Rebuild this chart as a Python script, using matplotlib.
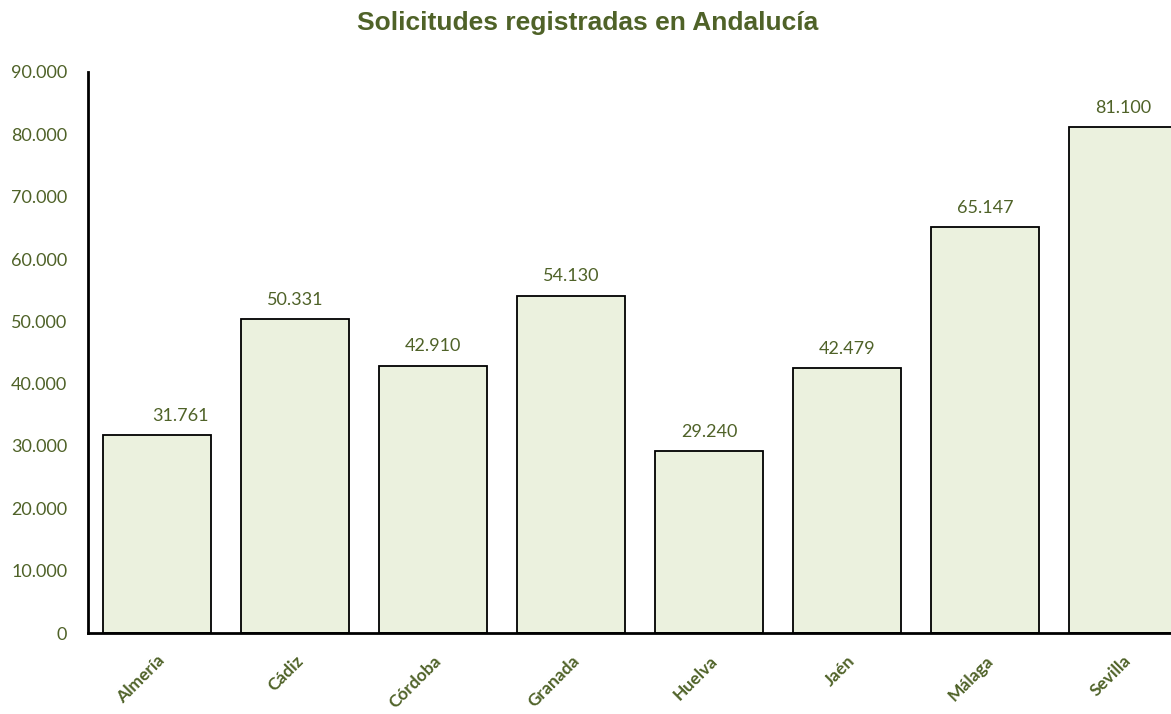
import matplotlib
matplotlib.use("Agg")
import matplotlib.pyplot as plt
from matplotlib.ticker import FuncFormatter

provincias = ["Almería", "Cádiz", "Córdoba", "Granada", "Huelva", "Jaén", "Málaga", "Sevilla"]
solicitudes = [31761, 50331, 42910, 54130, 29240, 42479, 65147, 81100]
yticks = [0, 10000, 20000, 30000, 40000, 50000, 60000, 70000, 80000, 90000]

green = "#4F6228"
fill = "#EBF1DE"

def fmt(v):
    return f"{int(v):,}".replace(",", ".")

fig = plt.figure(figsize=(11.71, 7.14), dpi=100)
ax = fig.add_axes([88/1171, 81/714, 1104/1171, 561/714])
x = list(range(len(provincias)))
bars = ax.bar(x, solicitudes, width=0.78, color=fill, edgecolor="black", linewidth=1.3, zorder=2)
ax.set_xlim(-0.5, len(provincias) - 0.5)
ax.set_ylim(0, 90000)
ax.set_yticks(yticks)
ax.yaxis.set_major_formatter(FuncFormatter(lambda v, p: fmt(v)))
ax.tick_params(axis="y", length=0, pad=15, labelsize=13, labelcolor=green)
ax.tick_params(axis="x", length=0, pad=14)
ax.set_xticks(x)
ax.set_xticklabels(provincias, rotation=45, ha="right", rotation_mode="anchor",
                   fontsize=12.5, fontweight="bold", color=green, family="Lato")
for lab in ax.get_yticklabels():
    lab.set_family("Lato")
for s in ["top", "right"]:
    ax.spines[s].set_visible(False)
for s in ["left", "bottom"]:
    ax.spines[s].set_linewidth(2)
    ax.spines[s].set_color("black")
ax.spines["bottom"].set_zorder(3)

offsets = [0.17, 0, 0, 0, 0, 0, 0, 0]
for xi, v, off in zip(x, solicitudes, offsets):
    ax.annotate(fmt(v), (xi + off, v), xytext=(0, 8), textcoords="offset points",
                ha="center", va="bottom", fontsize=13, color=green, family="Lato")

fig.text(0.502, 0.968, "Solicitudes registradas en Andalucía", ha="center", va="center",
         fontsize=19, fontweight="bold", color=green, family="Liberation Sans")

fig.savefig("out.png", dpi=100)
